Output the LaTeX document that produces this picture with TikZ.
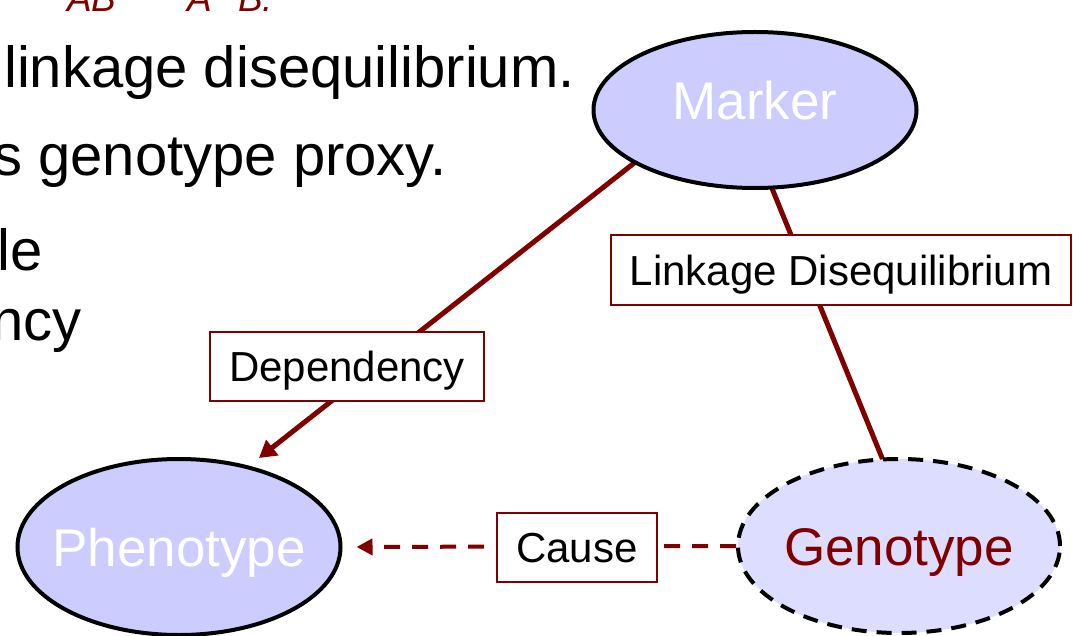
\documentclass[tikz,border=0pt]{standalone}
\usepackage{fontspec}
\setmainfont{Liberation Sans}
\usetikzlibrary{shapes.geometric,arrows.meta,backgrounds}
\definecolor{dred}{RGB}{128,0,0}
\definecolor{lav}{RGB}{204,204,255}
\definecolor{lavlight}{RGB}{221,221,255}
\tikzset{
  var/.style={ellipse,draw=black,line width=4pt,fill=lav,inner xsep=-40pt,inner ysep=0pt,
    minimum width=323pt,minimum height=176pt,text height=38pt,text depth=0pt,
    text=white,font=\fontsize{53}{60}\selectfont},
  rel/.style={draw=dred,line width=2pt,fill=white,inner xsep=19pt,inner ysep=0pt,
    minimum height=69pt,text height=30pt,text depth=0pt,font=\fontsize{42}{50}\selectfont},
  edge/.style={draw=dred,line width=5pt},
}

\begin{document}
\begin{tikzpicture}[x=1pt,y=1pt]
  \useasboundingbox (0,0) rectangle (1073,-636);
  \clip (0,0) rectangle (1073,-636);
  % slide text running in from the left
  \foreach \x/\y/\t in {575/88/linkage disequilibrium., 447/176/s genotype proxy., 43/270/le, 82/340/ncy}
    \node[anchor=base east,inner sep=0pt,font=\fontsize{58}{70}\selectfont] (line\y) at (\x,-\y) {\t};
  \foreach \x/\t in {67/AB, 187/A, 238/B.}
    \node[anchor=base west,inner sep=0pt,text=dred,font=\fontsize{37}{44}\selectfont\itshape] (sub\x) at (\x,-12) {\t};

  \node[var,minimum height=156pt,text depth=18pt] (marker) at (755,-110) {Marker};
  \node[var] (pheno) at (179,-547) {Phenotype};
  \node[var,fill=lavlight,dash pattern=on 15pt off 10pt,text=dred,
    minimum width=322pt,minimum height=174pt] (geno) at (899,-546) {Genotype};

  \node[rel] (dep) at (347,-366) {Dependency};
  \node[rel] (ld) at (841,-270) {Linkage Disequilibrium};
  \node[rel] (cause) at (577,-547) {Cause};

  \begin{pgfonlayer}{background}
    \draw[edge,-{Triangle[length=17pt,width=19pt]}] ([yshift=42pt]marker.center) -- ([shift={(80pt,89pt)}]pheno.center);
    \draw[edge] ([xshift=-15pt]marker.center) -- ([xshift=19pt]geno.center);
    \draw[edge,line width=4pt,dash pattern=on 16pt off 12pt,shorten >=14pt,
      -{Triangle[length=16pt,width=16pt]}] (geno.west) -- (pheno.east);
  \end{pgfonlayer}
\end{tikzpicture}
\end{document}
